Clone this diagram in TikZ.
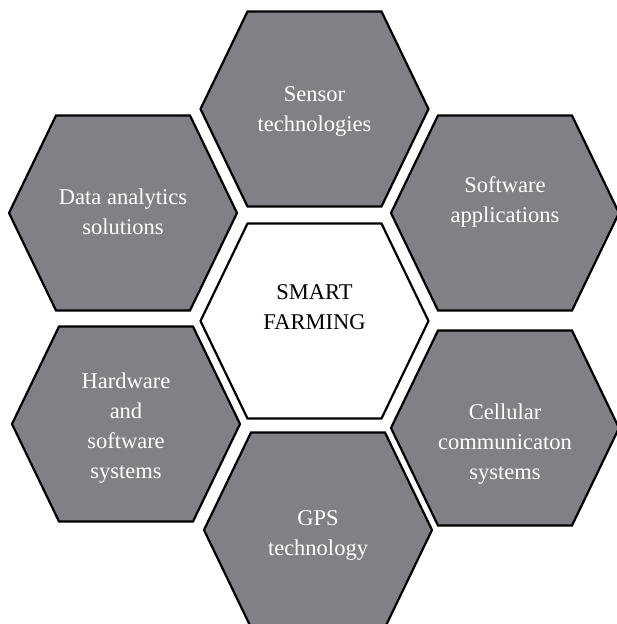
\documentclass[tikz,border=0pt]{standalone}
\usepackage{fontspec}
\setmainfont{Liberation Serif}
\usepackage{tikz}
\usepackage{xcolor}
\definecolor{farmgray}{RGB}{128,129,133}

\tikzset{
  hexcell/.pic={\path[pic actions] (-114,0) -- (-67,-97.5) -- (67,-97.5) -- (114,0) -- (67,97.5) -- (-67,97.5) -- cycle;},
  cellgray/.style={draw=black, line width=2.2pt, fill=farmgray, line join=miter},
  cellwhite/.style={draw=black, line width=2.2pt, fill=white, line join=miter},
  celltext/.style={align=center, text=white, font=\fontsize{22.5}{30}\selectfont},
}

\begin{document}
\begin{tikzpicture}[x=1pt, y=-1pt]
  \useasboundingbox (0,0) rectangle (617,624);

  \pic[cellgray] at (314.5,109) {hexcell};
  \pic[cellgray] at (123,213) {hexcell};
  \pic[cellgray] at (505,213) {hexcell};
  \pic[cellwhite] at (314.5,321) {hexcell};
  \pic[cellgray] at (126,424) {hexcell};
  \pic[cellgray] at (505,428) {hexcell};
  \pic[cellgray] at (318,530) {hexcell};

  \node (sensor) [celltext] at (314.5,111) {Sensor\\technologies};
  \node (analytics) [celltext] at (123,212) {Data analytics\\solutions};
  \node (software) [celltext] at (505,202) {Software\\applications};
  \node (farming) [celltext, text=black] at (314.5,307) {SMART\\FARMING};
  \node (hardware) [celltext] at (126,428) {Hardware\\and\\software\\systems};
  \node (cellular) [celltext] at (505,444) {Cellular\\communicaton\\systems};
  \node (gps) [celltext] at (318,535) {GPS\\technology};
\end{tikzpicture}
\end{document}
